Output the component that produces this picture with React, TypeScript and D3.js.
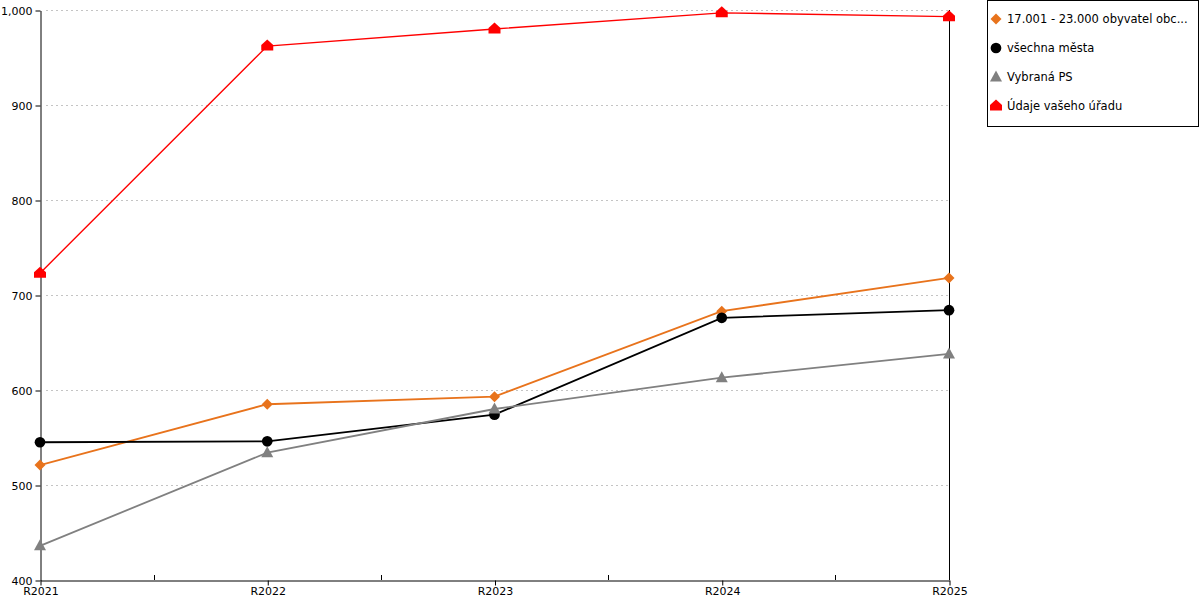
import * as d3 from "d3";
import { useEffect, useRef } from "react";

const categories = ["R2021", "R2022", "R2023", "R2024", "R2025"];
const yTicks = [400, 500, 600, 700, 800, 900, 1000];

const orangeValues = [521, 585, 593, 683, 718];
const blackValues = [545, 546, 574, 676, 684];
const grayValues = [436, 534, 580, 613, 638];
const redValues = [723, 962, 980, 997, 993];

const seriesNames = [
  "17.001 - 23.000 obyvatel obc...",
  "všechna města",
  "Vybraná PS",
  "Údaje vašeho úřadu",
];

const W = 1200;
const H = 600;
const plot = { left: 40, right: 949, top: 10, bottom: 580 };
const FONT = "DejaVu Sans, Verdana, sans-serif";

// marker path generators, centred at 0,0
function markerPath(kind: string) {
  if (kind === "diamond") return "M0,-5.5L5.5,0L0,5.5L-5.5,0Z";
  if (kind === "circle") return d3.symbol(d3.symbolCircle, 90)() as string;
  if (kind === "triangle") return "M0,-6.5L6,4.5L-6,4.5Z";
  // house: square with a roof
  return "M-6,4.5L-6,-1L0,-6.5L6,-1L6,4.5Z";
}

function createChart(svgEl: SVGSVGElement) {
  const svg = d3.select(svgEl);
  svg.selectAll("*").remove();

  const x = d3
    .scalePoint<string>()
    .domain(categories)
    .range([plot.left, plot.right]);
  const y = d3
    .scaleLinear()
    .domain([400, 1000])
    .range([plot.bottom, plot.top]);

  // grid
  svg
    .append("g")
    .selectAll("line")
    .data(yTicks.filter((t) => t > 400))
    .enter()
    .append("line")
    .attr("x1", plot.left + 6)
    .attr("x2", plot.right)
    .attr("y1", (d) => Math.round(y(d)) + 0.5)
    .attr("y2", (d) => Math.round(y(d)) + 0.5)
    .attr("stroke", "#c4c4c4")
    .attr("stroke-dasharray", "2,3");

  // y axis
  const yAxis = svg
    .append("g")
    .attr("transform", `translate(${plot.left + 0.5},0.5)`)
    .call(d3.axisLeft(y).tickValues(yTicks).tickSize(5).tickSizeOuter(0));
  yAxis.select(".domain").attr("stroke", "#000");
  yAxis.selectAll("line").attr("stroke", "#000");
  yAxis
    .selectAll("text")
    .attr("fill", "#000")
    .style("font-family", FONT)
    .style("font-size", "11px")
    .attr("x", -8);

  // right border line
  svg
    .append("line")
    .attr("x1", plot.right + 0.5)
    .attr("x2", plot.right + 0.5)
    .attr("y1", plot.top)
    .attr("y2", plot.bottom)
    .attr("stroke", "#000");

  // x axis
  const xAxis = svg
    .append("g")
    .attr("transform", `translate(0.5,${plot.bottom + 0.5})`)
    .call(d3.axisBottom(x).tickSize(5).tickSizeOuter(0));
  xAxis.select(".domain").attr("stroke", "#000");
  xAxis.selectAll("line").attr("stroke", "#000");
  xAxis
    .selectAll("text")
    .attr("fill", "#000")
    .attr("y", 7)
    .style("font-family", FONT)
    .style("font-size", "11px");

  // minor ticks between categories
  const step = x.step();
  svg
    .append("g")
    .selectAll("line")
    .data(categories.slice(0, -1))
    .enter()
    .append("line")
    .attr("x1", (d) => Math.round((x(d) as number) + step / 2) + 0.5)
    .attr("x2", (d) => Math.round((x(d) as number) + step / 2) + 0.5)
    .attr("y1", plot.bottom)
    .attr("y2", plot.bottom - 5)
    .attr("stroke", "#000");

  const series = [
    { name: seriesNames[0], values: orangeValues, color: "#e8731c", marker: "diamond" },
    { name: seriesNames[1], values: blackValues, color: "#000000", marker: "circle" },
    { name: seriesNames[2], values: grayValues, color: "#808080", marker: "triangle" },
    { name: seriesNames[3], values: redValues, color: "#ff0000", marker: "house" },
  ];

  const line = d3
    .line<number>()
    .x((_, i) => x(categories[i]) as number)
    .y((d) => y(d));

  series.forEach((s) => {
    const g = svg.append("g");
    g.append("path")
      .attr("d", line(s.values))
      .attr("fill", "none")
      .attr("stroke", s.color)
      .attr("stroke-width", s.color === "#ff0000" ? 1.4 : 1.8);
    g.selectAll("path.marker")
      .data(s.values)
      .enter()
      .append("path")
      .attr("class", "marker")
      .attr("d", markerPath(s.marker))
      .attr("transform", (d, i) => `translate(${x(categories[i])},${y(d)})`)
      .attr("fill", s.color);
  });

  // legend
  const legend = svg.append("g");
  legend
    .append("rect")
    .attr("x", 987.5)
    .attr("y", 0.5)
    .attr("width", 211)
    .attr("height", 126)
    .attr("fill", "#fff")
    .attr("stroke", "#000");
  series.forEach((s, i) => {
    const ly = 19 + i * 29;
    legend
      .append("path")
      .attr("d", markerPath(s.marker))
      .attr("transform", `translate(996,${ly})`)
      .attr("fill", s.color);
    legend
      .append("text")
      .attr("x", 1007)
      .attr("y", ly + 4)
      .attr("fill", "#000")
      .style("font-family", FONT)
      .style("font-size", "11.5px")
      .text(s.name);
  });
}

function App() {
  const ref = useRef<SVGSVGElement>(null);
  useEffect(() => {
    if (ref.current) createChart(ref.current);
  }, []);
  return (
    <div style={{ position: "absolute", left: 0, top: 0, background: "#fff" }}>
      <svg ref={ref} width={W} height={H} style={{ display: "block" }}></svg>
    </div>
  );
}

export default App;
